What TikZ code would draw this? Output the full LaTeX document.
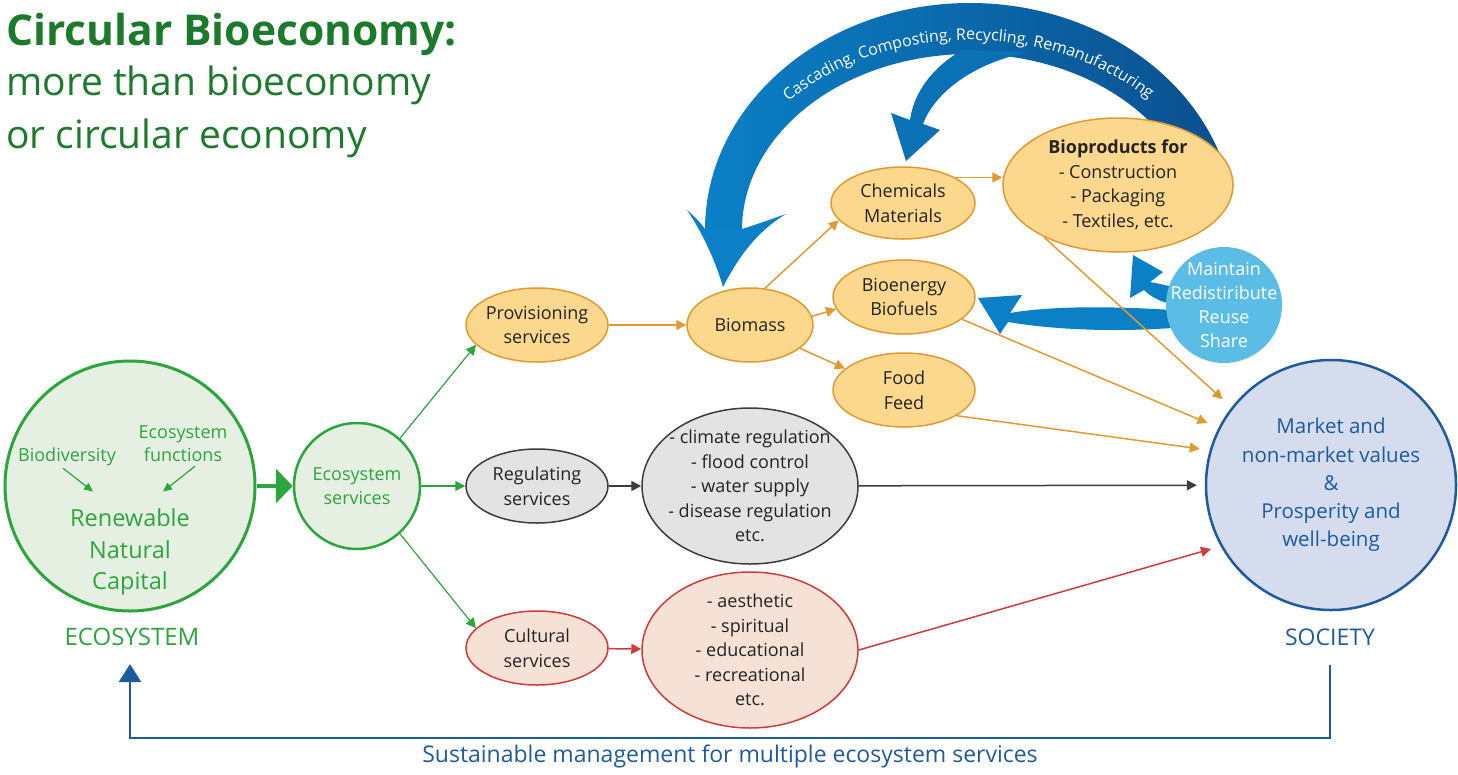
\documentclass[tikz,border=0pt]{standalone}
\usepackage{fontspec}
\setmainfont{Open Sans}
\usetikzlibrary{shapes.geometric, arrows.meta, decorations.text}
\definecolor{titlegreen}{HTML}{1B7A2C}
\definecolor{ecogreen}{HTML}{2CA53D}
\definecolor{ecofill}{HTML}{E6F0E2}
\definecolor{orfill}{HTML}{FCD88E}
\definecolor{ordraw}{HTML}{E29A2E}
\definecolor{grfill}{HTML}{E3E3E3}
\definecolor{grdraw}{HTML}{3C3C3C}
\definecolor{rdfill}{HTML}{F6E1D7}
\definecolor{rddraw}{HTML}{D23A3A}
\definecolor{socfill}{HTML}{D5DCEE}
\definecolor{socblue}{HTML}{1E5B9E}
\definecolor{loopblue}{HTML}{0B80C6}
\definecolor{loopdark}{HTML}{0A4F8E}
\definecolor{shareblue}{HTML}{5BBDE5}
\definecolor{txt}{HTML}{232323}
\tikzset{
  oval/.style={
    ellipse,
    draw=ordraw,
    fill=orfill,
    line width=1.5pt,
    inner sep=-2pt,
    minimum width=142pt,
    minimum height=74pt,
    align=center,
    text=txt,
    font=\fontsize{18}{24.5}\selectfont
  },
  greyoval/.style={oval, draw=grdraw, fill=grfill},
  redoval/.style={oval, draw=rddraw, fill=rdfill},
  listoval/.style={minimum width=216pt, minimum height=156pt, inner sep=-14pt},
  bigcircle/.style={circle, line width=2.5pt, inner sep=0pt, align=center},
  ecotext/.style={text=ecogreen, align=center, inner sep=2pt},
  fbline/.style={socblue, line width=2.5pt, -{Triangle[length=18pt,width=22pt]}}
}
\tikzstyle{arrow} = [line width=1.5pt, -{Triangle[length=10pt,width=10pt]}]
\def\sz#1#2{\fontsize{#1}{#2}\selectfont}

\begin{document}
\begin{tikzpicture}[x=1pt, y=1pt]
    \useasboundingbox (0,0) rectangle (1458,-774);
    \node[anchor=base west, inner sep=0pt, text=titlegreen, font=\sz{42.5}{53}\bfseries] (title) at (6,-45) {Circular Bioeconomy:};
    \node[anchor=base west, inner sep=0pt, text=titlegreen, font=\sz{39}{53}] (sub1) at (6,-95) {more than bioeconomy};
    \node[anchor=base west, inner sep=0pt, text=titlegreen, font=\sz{39}{53}] (sub2) at (6,-148) {or circular economy};

    \shade[left color=loopblue, right color=loopdark] (705,-230) arc[start angle=180, end angle=15, x radius=265pt, y radius=227pt] -- ({970+228*cos(15)}, {-230+176*sin(15)}) arc[start angle=15, end angle=180, x radius=228pt, y radius=176pt] -- cycle;
    \fill[loopblue] (687,-210) .. controls (702,-232) and (716,-262) .. (723,-287) .. controls (738,-258) and (756,-232) .. (786,-214) .. controls (766,-221) and (752,-226) .. (742,-229) -- (705,-229) .. controls (700,-222) and (694,-216) .. (687,-210) -- cycle;
    \fill[loopblue!70!loopdark] (962,-50) .. controls (932,-68) and (914,-92) .. (910,-120) -- (891,-113) -- (906,-161) -- (940,-130) -- (923,-124) .. controls (935,-92) and (975,-62) .. (1030,-52) -- cycle;
    \path[decorate, decoration={text along path, text align=center, text={|\sz{16}{16}\color{white}|Cascading, Composting, Recycling, Remanufacturing}}] ({970+246*cos(141)}, {-230+190*sin(141)}) arc[start angle=141, end angle=40, x radius=246pt, y radius=190pt];
    \fill[loopblue] (1172,-310) .. controls (1110,-306) and (1050,-306) .. (1010,-313) -- (1022,-295) -- (978,-298) -- (1000,-334) -- (1008,-322) .. controls (1055,-330) and (1115,-332) .. (1172,-328) -- cycle;
    \fill[loopblue] (1172,-287) .. controls (1162,-284) and (1155,-283) .. (1150,-282) -- (1163,-272) -- (1133,-255) -- (1130,-298) -- (1144,-290) .. controls (1150,-296) and (1160,-302) .. (1172,-304) -- cycle;

    \node[bigcircle, draw=ecogreen, fill=ecofill, line width=3pt, minimum size=250pt] (ecosys) at (130,-486) {};
    \node[ecotext, font=\sz{18}{23}] (biodiv) at (67,-457) {Biodiversity};
    \node[ecotext, font=\sz{18}{23}] (ecofunc) at (183,-444) {Ecosystem\\functions};
    \node[ecotext, font=\sz{23.5}{31.5}] (natcap) at (130,-552) {Renewable\\Natural\\Capital};
    \node[ecotext, font=\sz{24}{25}] (ecolbl) at (132,-637) {ECOSYSTEM};
    \draw[ecogreen, line width=1.2pt, -{Triangle[length=9pt,width=8pt]}] ([xshift=-4pt]biodiv.south) -- ([xshift=-37pt,yshift=15pt]natcap.north);
    \draw[ecogreen, line width=1.2pt, -{Triangle[length=9pt,width=8pt]}] ([xshift=12pt,yshift=-2pt]ecofunc.south) -- ([xshift=33pt,yshift=15pt]natcap.north);
    \node[bigcircle, draw=ecogreen, fill=ecofill, minimum size=126pt, text=ecogreen, font=\sz{18}{24.5}] (ecoserv) at (357,-486) {Ecosystem\\services};
    \draw[ecogreen, line width=4pt, -{Triangle[length=17pt,width=34pt]}] (ecosys) -- (ecoserv);

    \node[oval] (prov) at (537,-325) {Provisioning\\services};
    \node[oval, minimum width=126pt] (biomass) at (750,-325) {Biomass};
    \node[oval, minimum width=144pt, minimum height=72pt] (chem) at (903,-203) {Chemicals\\Materials};
    \node[oval, minimum width=142pt] (bioen) at (904,-297) {Bioenergy\\Biofuels};
    \node[oval, minimum width=142pt] (food) at (904,-390) {Food\\Feed};
    \node[oval, minimum width=230pt, minimum height=134pt, inner sep=-12pt] (bioprod) at (1118,-185) {\textbf{Bioproducts for}\\- Construction\\- Packaging\\- Textiles, etc.};
    \node[bigcircle, fill=shareblue, minimum size=116pt, inner sep=-14pt, text=white, font=\sz{18}{24}] (share) at (1224,-305) {Maintain\\Redistiribute\\Reuse\\Share};

    \node[greyoval] (reg) at (537,-486) {Regulating\\services};
    \node[greyoval, listoval] (reglist) at (750,-486) {- climate regulation\\- flood control\\- water supply\\- disease regulation\\etc.};
    \node[redoval] (cult) at (537,-648) {Cultural\\services};
    \node[redoval, listoval] (cultlist) at (750,-650) {- aesthetic\\- spiritual\\- educational\\- recreational\\etc.};

    \node[bigcircle, draw=socblue, fill=socfill, minimum size=250pt, text=socblue, font=\sz{20.5}{28.3}] (society) at (1331,-485) {Market and\\non-market values\\\&\\Prosperity and\\well-being};
    \node[text=socblue, font=\sz{23}{24}, inner sep=2pt] (soclbl) at (1330,-637) {SOCIETY};

    \draw[arrow, ecogreen, line width=1.2pt] (ecoserv.48) -- (prov.198);
    \draw[arrow, ecogreen, line width=1.2pt] (ecoserv) -- (reg);
    \draw[arrow, ecogreen, line width=1.2pt] (ecoserv.312) -- (cult.162);
    \draw[arrow, ordraw] (prov) -- (biomass);
    \draw[arrow, ordraw] (biomass.68) -- (chem.195);
    \draw[arrow, ordraw] (biomass.8) -- (bioen.190);
    \draw[arrow, ordraw] (biomass.-25) -- (food.160);
    \draw[arrow, ordraw] (chem.26) -- (chem.26 -| bioprod.west);
    \draw[arrow, ordraw, shorten >=12pt] (bioprod.215) -- (society.142);
    \draw[arrow, ordraw, shorten >=12pt] (bioen.339) -- (society.153);
    \draw[arrow, ordraw, shorten >=10pt] (food.334) -- (society.164);
    \draw[arrow, grdraw] (reg) -- (reglist);
    \draw[arrow, grdraw, shorten >=8pt] (reglist) -- (society);
    \draw[arrow, rddraw] (cult) -- (cultlist);
    \draw[arrow, rddraw, shorten >=10pt] (cultlist.east) -- (society.209);

    \coordinate (fbL) at (130,-738);
    \draw[fbline] ([yshift=-17pt]soclbl.south) -- (soclbl.south |- fbL) -- (fbL) -- ([yshift=-16pt]ecolbl.south -| fbL);
    \node[text=socblue, font=\sz{23}{24}] (fblbl) at (730,-756) {Sustainable management for multiple ecosystem services};
\end{tikzpicture}
\end{document}
